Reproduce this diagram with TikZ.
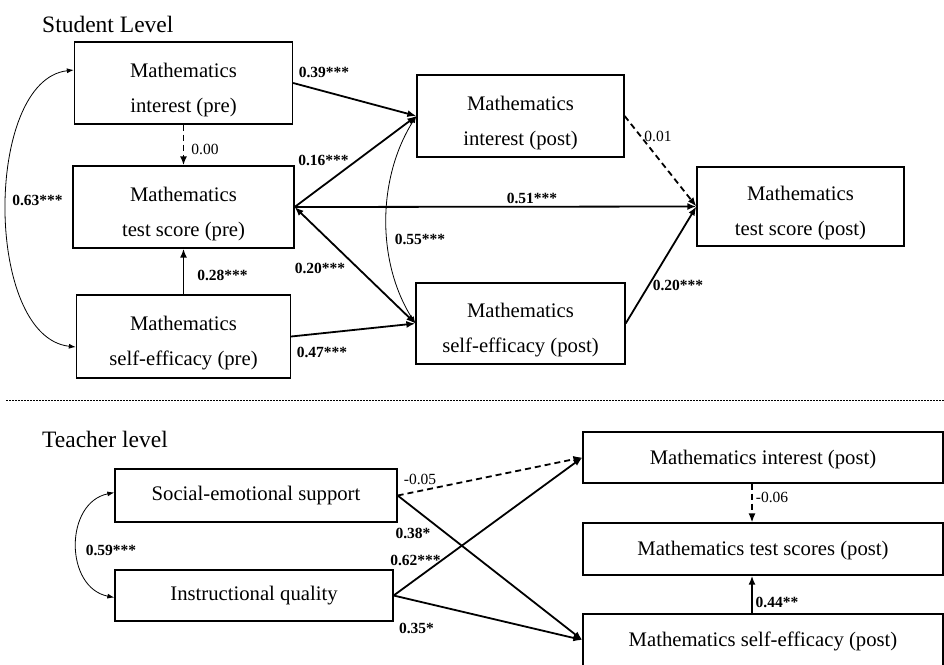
\documentclass[tikz,border=0pt]{standalone}
\usepackage{fontspec}
\setmainfont{Liberation Serif}
\usetikzlibrary{arrows.meta}

\begin{document}
\begin{tikzpicture}[
              x=1pt, y=-1pt,
              box/.style={draw, line width=1.3pt, inner sep=0pt, align=center,
                font=\fontsize{20.7}{35}\selectfont},
              tallbox/.style={box, text height=62pt, text depth=4pt},
              widebox/.style={box, text height=17pt, text depth=4pt},
              title/.style={anchor=base west, inner sep=0pt, font=\fontsize{23.5}{28}\selectfont},
              coef/.style={inner sep=0pt, font=\fontsize{15.5}{18}\selectfont\bfseries},
              nscoef/.style={inner sep=0pt, font=\fontsize{15.5}{18}\selectfont},
              effect/.style={line width=1.8pt, -{Latex[length=9pt,width=7pt]}},
              twoway/.style={line width=1.8pt, {Latex[length=9pt,width=7pt]}-{Latex[length=9pt,width=7pt]}},
              nseffect/.style={effect, dash pattern=on 6pt off 4pt},
              cov/.style={line width=0.8pt, {Latex[length=7pt,width=5pt]}-{Latex[length=7pt,width=5pt]}}
            ]
              \useasboundingbox (0,0) rectangle (944,664);

              \node[title] (student) at (42,32) {Student Level};
              \node[tallbox, minimum width=218pt, minimum height=82pt] (intpre) at (183.5,83) {Mathematics\\interest (pre)};
              \node[tallbox, minimum width=221pt, minimum height=82pt] (testpre) at (183.5,207) {Mathematics\\test score (pre)};
              \node[tallbox, minimum width=214pt, minimum height=83pt] (effpre) at (183.5,336.5) {Mathematics\\self-efficacy (pre)};
              \node[tallbox, minimum width=207pt, minimum height=82pt] (intpost) at (520.5,116) {Mathematics\\interest (post)};
              \node[tallbox, minimum width=209pt, minimum height=81pt] (effpost) at (520.5,323.5) {Mathematics\\self-efficacy (post)};
              \node[tallbox, minimum width=207pt, minimum height=79pt] (testpost) at (800.5,206.5) {Mathematics\\test score (post)};

              \draw[effect] (intpre.east) -- (intpost.west);
              \draw[effect] (testpre.east) -- (intpost.west);
              \draw[effect] (testpre.east) -- (testpost.west);
              \draw[twoway] (testpre.east) -- (effpost.west);
              \draw[effect] (effpre.east) -- (effpost.west);
              \draw[effect] (effpre.north) -- (testpre.south);
              \draw[nseffect] (intpre.south) -- (testpre.north);
              \draw[nseffect] (intpost.east) -- (testpost.west);
              \draw[effect] (effpost.east) -- (testpost.west);
              \draw[cov] ([yshift=13pt]intpre.west) .. controls +(-90,10) and +(-92,-10) .. ([yshift=-10.5pt]effpre.west);
              \draw[cov] (intpost.west) .. controls +(-39,62) and +(-39,-62) .. (effpost.west);

              \node[coef] (b39) at (324,72) {0.39***};
              \node[coef] (b16) at (323.5,160) {0.16***};
              \node[coef] (b51) at (532,198) {0.51***};
              \node[coef] (b55) at (420,239) {0.55***};
              \node[coef] (b20a) at (320,268) {0.20***};
              \node[coef] (b47) at (322,352) {0.47***};
              \node[coef] (b20b) at (678,285) {0.20***};
              \node[nscoef] (b01) at (658,136) {0.01};
              \node[nscoef] (b00) at (205,149) {0.00};
              \node[coef] (b28) at (222.5,275) {0.28***};
              \node[coef] (b63) at (37.5,200) {0.63***};

              \coordinate (sepl) at (6,400);
              \coordinate (sepr) at (944,400);
              \draw[line width=0.6pt, dash pattern=on 2pt off 1pt] (sepl) -- (sepr);

              \node[title] (teacher) at (42,447) {Teacher level};
              \node[box, minimum width=282pt, minimum height=53pt] (support) at (256,495.5) {Social-emotional support};
              \node[box, minimum width=278pt, minimum height=51pt] (quality) at (254,595.5) {Instructional quality};
              \node[widebox, minimum width=360pt, minimum height=51pt] (tint) at (763,457.5) {Mathematics interest (post)};
              \node[widebox, minimum width=360pt, minimum height=52pt] (ttest) at (763,549) {Mathematics test scores (post)};
              \node[widebox, minimum width=360pt, minimum height=52pt] (teff) at (763,640) {Mathematics self-efficacy (post)};

              \draw[nseffect] (support.east) -- (tint.west);
              \draw[effect] (support.east) -- (teff.west);
              \draw[effect] (quality.east) -- (tint.west);
              \draw[effect] (quality.east) -- (teff.west);
              \draw[nseffect, line width=1.4pt] ([xshift=-11pt]tint.south) -- ([xshift=-11pt]ttest.north);
              \draw[effect] ([xshift=-11pt]teff.north) -- ([xshift=-11pt]ttest.south);
              \draw[cov] ([yshift=3pt]support.west) .. controls +(-50,10) and +(-50,-10) .. ([yshift=-2pt]quality.west);

              \node[coef] (b59) at (111,550) {0.59***};
              \node[nscoef] (b05) at (420,479) {-0.05};
              \node[coef] (b38) at (413,533) {0.38*};
              \node[coef] (b62) at (415.5,560) {0.62***};
              \node[coef] (b35) at (416.5,628) {0.35*};
              \node[nscoef] (b06) at (772,497) {-0.06};
              \node[coef] (b44) at (777,602) {0.44**};
            \end{tikzpicture}
\end{document}
